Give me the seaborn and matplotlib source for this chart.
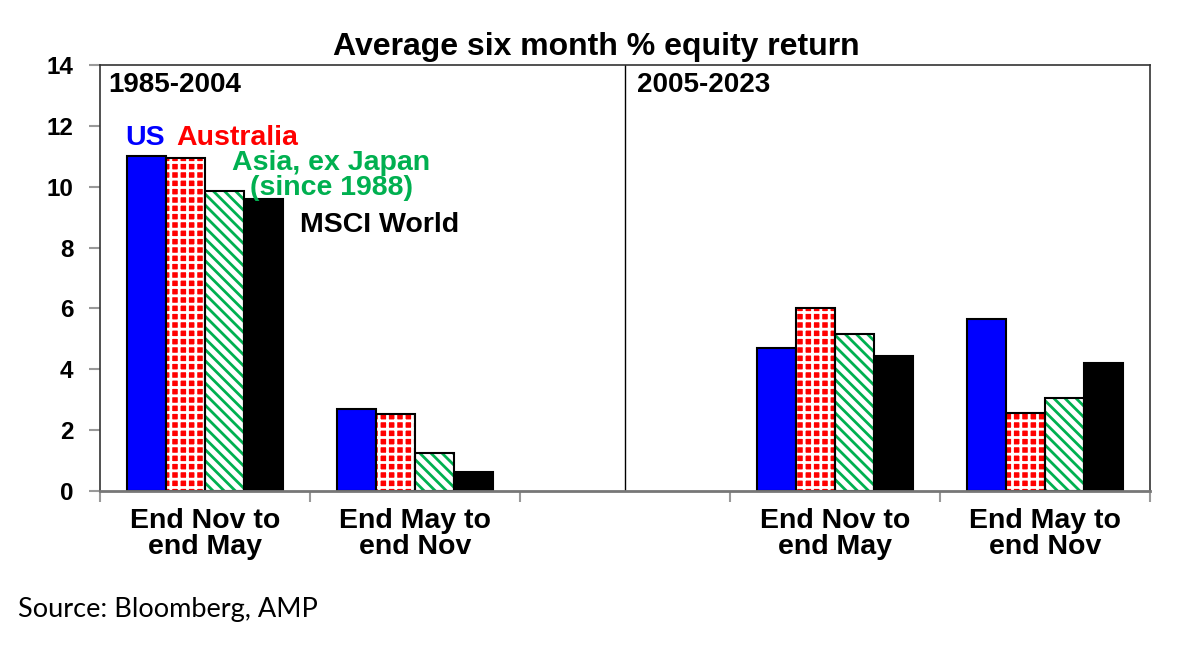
import matplotlib
matplotlib.use("Agg")
import matplotlib.pyplot as plt
import matplotlib.patches as mpatches
import seaborn as sns
import pandas as pd
import numpy as np

sns.set_style("white")
plt.rcParams['font.family'] = ['Liberation Sans', 'DejaVu Sans']
plt.rcParams['hatch.linewidth'] = 2.0
plt.rcParams['text.color'] = 'black'

# chart data
slots = ["p1_novmay", "p1_maynov", "gap", "p2_novmay", "p2_maynov"]
slot_labels = ["End Nov to\nend May", "End May to\nend Nov", "", "End Nov to\nend May", "End May to\nend Nov"]
series = ["US", "Australia", "Asia, ex Japan", "MSCI World"]
us = [11.0, 2.68, 4.71, 5.64]
australia = [10.95, 2.54, 6.02, 2.55]
asia = [9.86, 1.26, 5.15, 3.05]
msci = [9.6, 0.64, 4.43, 4.21]

blue, red, green, black = "#0000FF", "#FF0000", "#00B050", "#000000"
colors = [blue, red, green, black]
# (face colour, hatch, hatch colour) per series; None = plain fill
patterns = [None, (red, "++", "white"), ("white", "\\\\\\", green), None]

data_slots = [s for s in slots if s != "gap"]
rows = []
for name, vals in zip(series, [us, australia, asia, msci]):
    for s, v in zip(data_slots, vals):
        rows.append({"slot": s, "series": name, "value": v})
df = pd.DataFrame(rows)

fig = plt.figure(figsize=(11.85, 6.49), dpi=100)
ax = fig.add_axes([100/1185, 1-491/649, 1050/1185, 426/649])

sns.barplot(data=df, x="slot", y="value", hue="series", order=slots,
            hue_order=series, palette=colors, saturation=1, width=0.74, gap=0,
            edgecolor="black", linewidth=1.5, legend=False, ax=ax)

# patterns for Australia and Asia (one container per series)
for cont, pat in zip(ax.containers, patterns):
    if pat is None:
        continue
    face, hatch, hcol = pat
    for p in cont:
        p.set_facecolor(face)
        p.set_hatch(hatch)
        if hasattr(p, "set_hatchcolor"):
            p.set_hatchcolor(hcol)
        else:
            p.set_edgecolor(hcol)
            p.set_linewidth(0)
            ax.add_patch(mpatches.Rectangle((p.get_x(), p.get_y()), p.get_width(), p.get_height(),
                                            fill=False, edgecolor="black", linewidth=1.5))

ax.set_xlim(-0.5, len(slots) - 0.5)
ax.set_ylim(0, 14)
ax.set_yticks(range(0, 15, 2))
ax.set_xticks(np.arange(-0.5, len(slots), 1))
ax.set_xticklabels([])
ax.set_xticks([i for i, s in enumerate(slots) if s != "gap"], minor=True)
ax.set_xticklabels([l for l in slot_labels if l], minor=True)
ax.tick_params(axis="x", which="major", direction="out", length=8, width=1.5, color="#999999", bottom=True)
ax.tick_params(axis="x", which="minor", length=0, pad=12, labelsize=20.5, labelcolor="black")
ax.tick_params(axis="y", direction="out", length=8, width=1.5, color="#999999", left=True, pad=11,
               labelsize=17.5, labelcolor="black")
for lab in ax.get_xticklabels(minor=True) + ax.get_yticklabels():
    lab.set_fontweight("bold")
for lab in ax.get_xticklabels(minor=True):
    lab.set_linespacing(1.02)
ax.set_xlabel("")
ax.set_ylabel("")

for side in ["top", "right", "left"]:
    ax.spines[side].set_color("#333333")
    ax.spines[side].set_linewidth(1.2)
ax.spines["bottom"].set_color("#777777")
ax.spines["bottom"].set_linewidth(2)

# divider between periods
ax.axvline(slots.index("gap"), color="black", linewidth=1)

ax.text(-0.46, 13.34, "1985-2004", fontsize=20, fontweight="bold", va="center", ha="left")
ax.text(2.057, 13.34, "2005-2023", fontsize=20, fontweight="bold", va="center", ha="left")

# in-chart legend labels
ax.text(-0.38, 11.6, "US", color=blue, fontsize=20.5, fontweight="bold", va="center", ha="left")
ax.text(-0.138, 11.6, "Australia", color=red, fontsize=20.5, fontweight="bold", va="center", ha="left")
ax.text(0.6, 10.78, "Asia, ex Japan", color=green, fontsize=20.5, fontweight="bold",
        va="center", ha="center")
ax.text(0.6, 9.96, "(since 1988)", color=green, fontsize=20.5, fontweight="bold",
        va="center", ha="center")
ax.text(0.45, 8.74, "MSCI World", color=black, fontsize=20.5, fontweight="bold", va="center", ha="left")

fig.suptitle("Average six month % equity return", x=596/1185, y=1-47/649, va="center",
             fontsize=23, fontweight="bold", color="black")
fig.text(18/1185, 1-610/649, "Source: Bloomberg, AMP", fontsize=19.5, va="center", ha="left",
         color="black", family=["Lato", "DejaVu Sans"])

fig.savefig("out.png", dpi=100)
